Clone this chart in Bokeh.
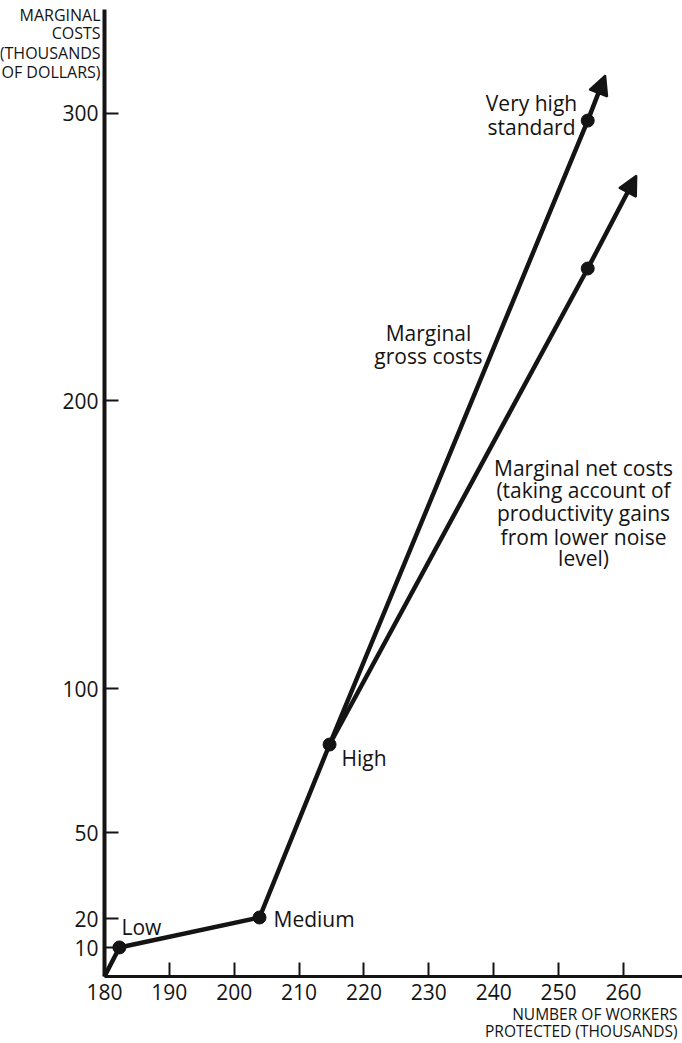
from bokeh.plotting import figure
from bokeh.models import Range1d, FixedTicker, Label, Arrow, NormalHead, LinearAxis
from bokeh.embed import file_html
from bokeh.resources import INLINE

# ---- data ----
standards = ["Low", "Medium", "High", "Very high standard"]
workers = [180, 182.3, 203.9, 214.7, 254.5]     # thousands of workers protected
gross_costs = [0, 10.1, 20.5, 80.6, 297.4]      # marginal gross costs (thousands $)
net_costs = [0, 10.1, 20.5, 80.6, 246.0]        # marginal net costs (thousands $)
arrow_tip_x = [257.2, 262.0]                    # arrow continuation (gross, net)
arrow_tip_y = [313.1, 278.3]
x_ticks = [180, 190, 200, 210, 220, 230, 240, 250, 260]
y_ticks = [10, 20, 50, 100, 200, 300]

INK = "#141414"
FONT = "Open Sans"
X0, X1 = 163.97, 269.11
Y0, Y1 = -23.28, 339.12
Y_TOP = 336.0

p = figure(width=682, height=1043, output_backend="svg", toolbar_location=None,
           x_range=Range1d(X0, X1), y_range=Range1d(Y0, Y1),
           x_axis_location=None, y_axis_location=None,
           min_border=0, min_border_left=0, min_border_right=0,
           min_border_top=0, min_border_bottom=0)
p.outline_line_color = None
p.grid.visible = False
p.background_fill_color = "white"

xaxis = LinearAxis(fixed_location=0, bounds=(180, X1), ticker=FixedTicker(ticks=x_ticks))
yaxis = LinearAxis(fixed_location=180, bounds=(0, Y_TOP), ticker=FixedTicker(ticks=y_ticks))
for ax in (xaxis, yaxis):
    ax.axis_line_color = INK
    ax.major_tick_line_color = INK
    ax.major_tick_line_width = 2
    ax.major_tick_in = 14
    ax.major_tick_out = 0
    ax.minor_tick_line_color = None
    ax.major_label_text_font = FONT
    ax.major_label_text_font_size = "21px"
    ax.major_label_text_color = INK
xaxis.major_label_standoff = 8
yaxis.major_label_standoff = 6
xaxis.axis_line_width = 3
yaxis.axis_line_width = 4
p.add_layout(xaxis, "below")
p.add_layout(yaxis, "left")

# gross cost line (whole path) and net cost line (diverges after "High")
p.line(workers, gross_costs, line_width=4.5, line_color=INK, line_join="round")
p.line(workers[3:], net_costs[3:], line_width=4.5, line_color=INK, line_join="round")

# continuation arrows
for i, ys in enumerate((gross_costs, net_costs)):
    p.add_layout(Arrow(end=NormalHead(size=19, fill_color=INK, fill_alpha=1.0,
                                      line_color=INK, line_width=2),
                       x_start=workers[-1], y_start=ys[-1],
                       x_end=arrow_tip_x[i], y_end=arrow_tip_y[i],
                       line_width=4.5, line_color=INK))

# standard points
p.scatter(workers[1:], gross_costs[1:], size=13, fill_color=INK, line_color=INK)
p.scatter(workers[-1:], net_costs[-1:], size=13, fill_color=INK, line_color=INK)

def lab(x, y, t, align="left", size="21px", base="middle"):
    p.add_layout(Label(x=x, y=y, text=t, text_font=FONT, text_font_size=size,
                       text_color=INK, text_align=align, text_baseline=base))

lab(182.62, 17.37, "Low")
lab(206.06, 20.15, "Medium")
lab(216.54, 75.75, "High")
for y, t in zip([303.34, 295.0], ["Very high", "standard"]):
    lab(245.83, y, t, align="center")
for y, t in zip([223.42, 215.77], ["Marginal", "gross costs"]):
    lab(229.95, y, t, align="center")
for y, t in zip([176.51, 168.87, 160.88, 152.54, 145.24],
                ["Marginal net costs", "(taking account of", "productivity gains",
                 "from lower noise", "level)"]):
    lab(253.85, y, t, align="center")

# axis titles
for y, t in zip([333.91, 327.66, 320.71, 314.45],
                ["MARGINAL", "COSTS", "(THOUSANDS", "OF DOLLARS)"]):
    lab(179.4, y, t, align="right", size="16px")
for y, t in zip([-13.2, -19.1], ["NUMBER OF WORKERS", "PROTECTED (THOUSANDS)"]):
    lab(268.34, y, t, align="right", size="15.5px")

open("out.html", "w").write(file_html(p, INLINE))
